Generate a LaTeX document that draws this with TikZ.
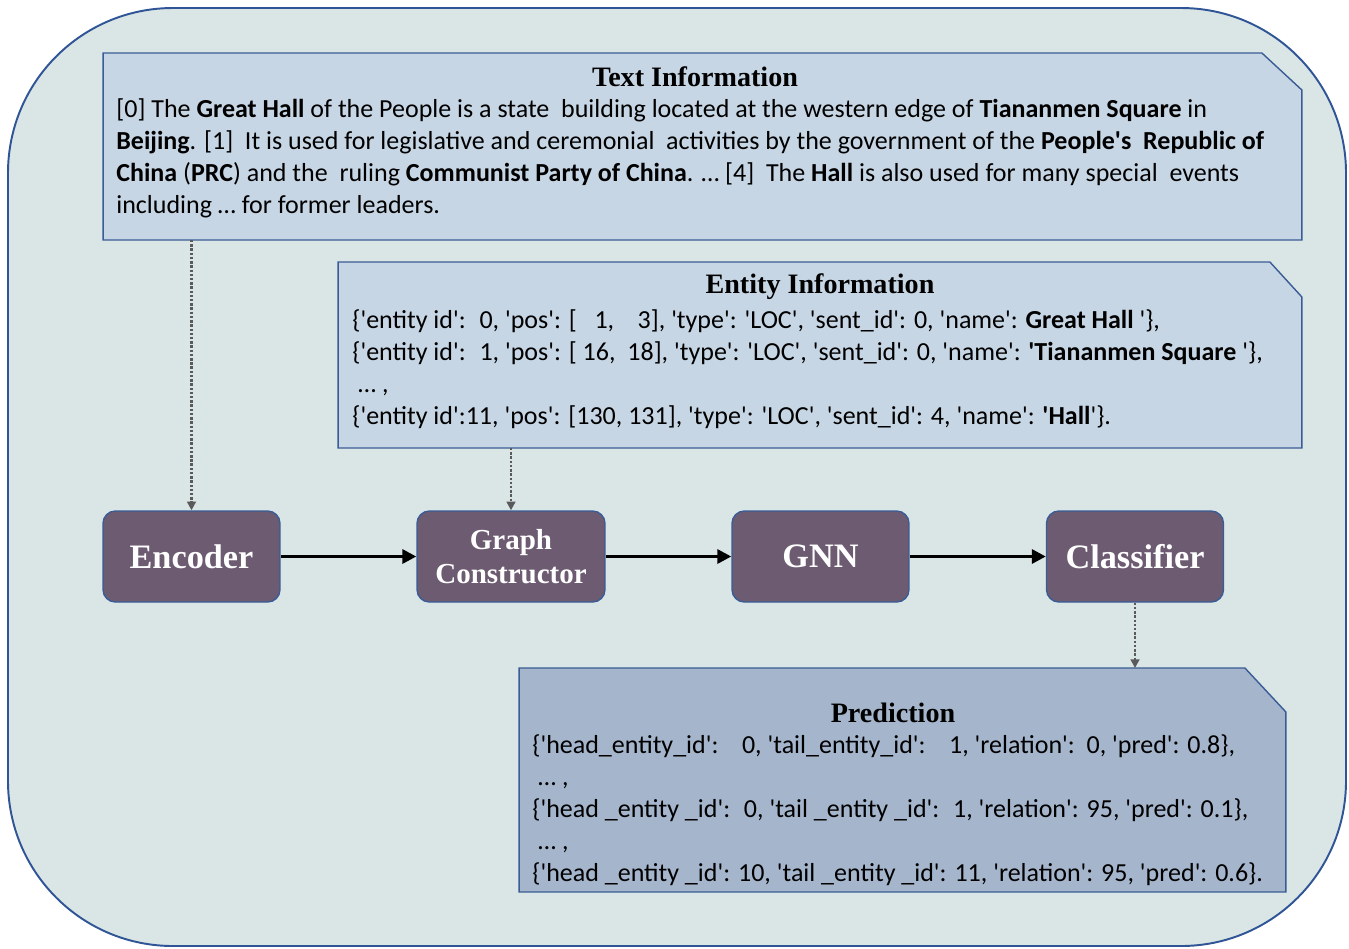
\documentclass[tikz,border=0pt]{standalone}
\usepackage{fontspec}
\newfontfamily\bodyfont{Carlito}
\newfontfamily\headfont{Liberation Serif}
\usepackage{xcolor}
\usetikzlibrary{arrows.meta,calc,positioning}
\definecolor{panelbg}{HTML}{DAE5E5}
\definecolor{panelline}{HTML}{2F5597}
\definecolor{infofill}{HTML}{C7D6E4}
\definecolor{predfill}{HTML}{A4B5CC}
\definecolor{stagefill}{HTML}{6D5B72}
\definecolor{stageline}{HTML}{3A5C96}
\definecolor{feedgray}{HTML}{5A5A5A}

\begin{document}
\begin{tikzpicture}[
  x=0.02cm,y=-0.02cm,
  >=Triangle,
  stage/.style={draw=stageline,thick,fill=stagefill,rounded corners=7pt,
      minimum width=3.54cm,minimum height=1.82cm,text=white,align=center,
      font=\headfont\bfseries\fontsize{19.5}{22}\selectfont},
  infoframe/.style={inner sep=0pt,outer sep=0pt},
  infobox/.style={draw=stageline,thick},
  head/.style={font=\headfont\bfseries\fontsize{16}{19}\selectfont,inner sep=0pt},
  body/.style={font=\bodyfont\fontsize{14.8}{18.2}\selectfont,align=left,
      anchor=north west,inner sep=0pt},
  flow/.style={-{Triangle[length=8pt,width=8pt]},line width=1.8pt},
  feed/.style={-{Triangle[length=5pt,width=5pt]},densely dotted,line width=1.4pt,feedgray}
]
\useasboundingbox (0,0) rectangle (1349,948);
\draw[draw=panelline,fill=panelbg,line width=1.1pt,rounded corners=3.3cm] (8,8) rectangle (1346,946);

\node[infoframe,minimum width=23.98cm,minimum height=3.74cm] (txt) at (702.5,146.5) {};
\node[infoframe,minimum width=19.28cm,minimum height=3.72cm] (ent) at (820,355) {};
\node[infoframe,minimum width=15.34cm,minimum height=4.48cm] (pred) at (902.5,780) {};

\draw[infobox,fill=infofill] (txt.south west) -- (txt.north west) -- ($(txt.north east)+(-40,0)$)
  -- ($(txt.north east)+(0,37)$) -- (txt.south east) -- cycle;
\draw[infobox,fill=infofill] (ent.south west) -- (ent.north west) -- ($(ent.north east)+(-32,0)$)
  -- ($(ent.north east)+(0,35)$) -- (ent.south east) -- cycle;
\draw[infobox,fill=predfill] (pred.south west) -- (pred.north west) -- ($(pred.north east)+(-41,0)$)
  -- ($(pred.north east)+(0,44)$) -- (pred.south east) -- cycle;

\node[head] (txthead) at (695,77) {Text Information};
\node[body] (txtbody) at (116,98) {%
  [0] The \textbf{Great Hall} of the People is a state~ building located at the western edge of \textbf{Tiananmen Square} in\\
  \textbf{Beijing}. [1]~ It is used for legislative and ceremonial~ activities by the government of the \textbf{People's~ Republic of}\\
  \textbf{China} (\textbf{PRC}) and the~ ruling \textbf{Communist Party of China}. … [4]~ The \textbf{Hall} is also used for many special~ events\\
  including … for former leaders.};

\node[head] (enthead) at (820,287) {Entity Information};
\node[body] (entbody) at (352,309) {%
  \{'entity id':~ 0, 'pos': [~~~1,~~~~3], 'type': 'LOC', 'sent\_id': 0, 'name': \textbf{Great Hall} '\},\\
  \{'entity id':~ 1, 'pos': [ 16,~~18], 'type': 'LOC', 'sent\_id': 0, 'name': \textbf{'Tiananmen Square} '\},\\
  \ … ,\\
  \{'entity id':11, 'pos': [130, 131], 'type': 'LOC', 'sent\_id': 4, 'name': \textbf{'Hall}'\}.};

\node[head] (predhead) at (893,713) {Prediction};
\node[body] (predbody) at (532,734) {%
  \{'head\_entity\_id':~~~~0, 'tail\_entity\_id':~~~~1, 'relation':~~0, 'pred': 0.8\},\\
  \ … ,\\
  \{'head \_entity \_id':~ 0, 'tail \_entity \_id':~ 1, 'relation': 95, 'pred': 0.1\},\\
  \ … ,\\
  \{'head \_entity \_id': 10, 'tail \_entity \_id': 11, 'relation': 95, 'pred': 0.6\}.};

\node[stage] (enc) at (191.5,556.5) {Encoder};
\node[stage,minimum width=3.76cm,font=\headfont\bfseries\fontsize{16.5}{19.5}\selectfont] (gc) at (511,556.5) {Graph\\Constructor};
\node[stage] (gnn) at (820.5,556.5) {GNN};
\node[stage] (cls) at (1135,556.5) {Classifier};

\draw[flow] (enc) -- (gc);
\draw[flow] (gc) -- (gnn);
\draw[flow] (gnn) -- (cls);

\draw[feed] (txt.south -| enc.north) -- (enc.north);
\draw[feed] (ent.south -| gc.north) -- (gc.north);
\draw[feed] (cls.south) -- (cls.south |- pred.north);
\end{tikzpicture}
\end{document}
